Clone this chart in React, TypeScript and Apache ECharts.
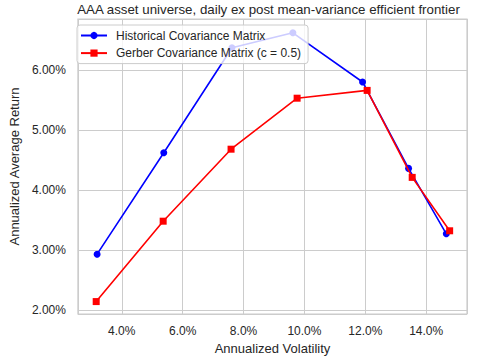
import React, { useEffect, useRef } from "react";
import * as echarts from "echarts";

const historicalVol = [3.19, 5.38, 7.62, 9.62, 11.91, 13.42, 14.66];
const historicalRet = [2.93, 4.62, 6.37, 6.62, 5.8, 4.36, 3.27];
const gerberVol = [3.16, 5.36, 7.59, 9.76, 12.06, 13.54, 14.77];
const gerberRet = [2.14, 3.48, 4.68, 5.53, 5.66, 4.21, 3.32];

const seriesNames = ["Historical Covariance Matrix", "Gerber Covariance Matrix (c = 0.5)"];
const titleText = "AAA asset universe, daily ex post mean-variance efficient frontier";
const xAxisName = "Annualized Volatility";
const yAxisName = "Annualized Average Return";

const FONT = "'Liberation Sans', Arial, sans-serif";
const TEXT = "#262626";
const GRID = "#cccccc";

export default function App() {
  const ref = useRef<HTMLDivElement>(null);
  useEffect(() => {
    if (!ref.current) return;
    const chart = echarts.init(ref.current, undefined, { renderer: "svg" });
    const histData = historicalVol.map((v, i) => [v, historicalRet[i]]);
    const gerbData = gerberVol.map((v, i) => [v, gerberRet[i]]);
    chart.setOption({
      animation: false,
      backgroundColor: "#ffffff",
      textStyle: { fontFamily: FONT, color: TEXT },
      title: {
        text: titleText,
        left: 268.5,
        top: 2.5,
        padding: 0,
        textAlign: "center",
        textStyle: { fontFamily: FONT, fontSize: 13.3, fontWeight: "normal", color: TEXT },
      },
      grid: {
        left: 70,
        right: 12,
        top: 19,
        bottom: 50,
        show: true,
        borderColor: GRID,
        borderWidth: 1.2,
        backgroundColor: "#ffffff",
      },
      legend: {
        orient: "vertical",
        left: 77,
        top: 25,
        data: seriesNames,
        backgroundColor: "rgba(255,255,255,0.8)",
        borderColor: GRID,
        borderWidth: 1,
        borderRadius: 3,
        padding: [3, 7, 3, 3],
        itemWidth: 26,
        itemHeight: 9,
        itemGap: 2.6,
        textStyle: {
          fontFamily: FONT,
          fontSize: 12,
          color: TEXT,
          lineHeight: 15,
          padding: [0, 0, 0, 4],
        },
      },
      xAxis: {
        type: "value",
        min: 2.56,
        max: 15.34,
        splitNumber: 6,
        minInterval: 2,
        maxInterval: 2,
        name: xAxisName,
        nameLocation: "middle",
        nameGap: 27,
        nameTextStyle: { fontFamily: FONT, fontSize: 13, color: TEXT },
        axisLine: { show: false },
        axisTick: { show: false },
        axisLabel: {
          margin: 11,
          fontFamily: FONT,
          fontSize: 12,
          color: TEXT,
          showMinLabel: false,
          showMaxLabel: false,
          formatter: (v: number) => v.toFixed(1) + "%",
        },
        splitLine: { show: true, lineStyle: { color: GRID, width: 1 } },
      },
      yAxis: {
        type: "value",
        min: 1.933,
        max: 6.85,
        splitNumber: 5,
        minInterval: 1,
        maxInterval: 1,
        name: yAxisName,
        nameLocation: "middle",
        nameGap: 50,
        nameTextStyle: { fontFamily: FONT, fontSize: 13, color: TEXT },
        axisLine: { show: false },
        axisTick: { show: false },
        axisLabel: {
          margin: 12,
          fontFamily: FONT,
          fontSize: 12,
          color: TEXT,
          showMinLabel: false,
          showMaxLabel: false,
          formatter: (v: number) => v.toFixed(2) + "%",
        },
        splitLine: { show: true, lineStyle: { color: GRID, width: 1 } },
      },
      series: [
        {
          name: seriesNames[0],
          type: "line",
          data: histData,
          symbol: "circle",
          symbolSize: 7,
          color: "#0000ff",
          lineStyle: { color: "#0000ff", width: 1.6 },
          itemStyle: { color: "#0000ff" },
          z: 2,
        },
        {
          name: seriesNames[1],
          type: "line",
          data: gerbData,
          symbol: "rect",
          symbolSize: 7,
          color: "#ff0000",
          lineStyle: { color: "#ff0000", width: 1.6 },
          itemStyle: { color: "#ff0000" },
          z: 3,
        },
      ],
    });
    return () => chart.dispose();
  }, []);
  return <div ref={ref} style={{ width: 479, height: 364, position: "absolute", left: 0, top: 0 }} />;
}
